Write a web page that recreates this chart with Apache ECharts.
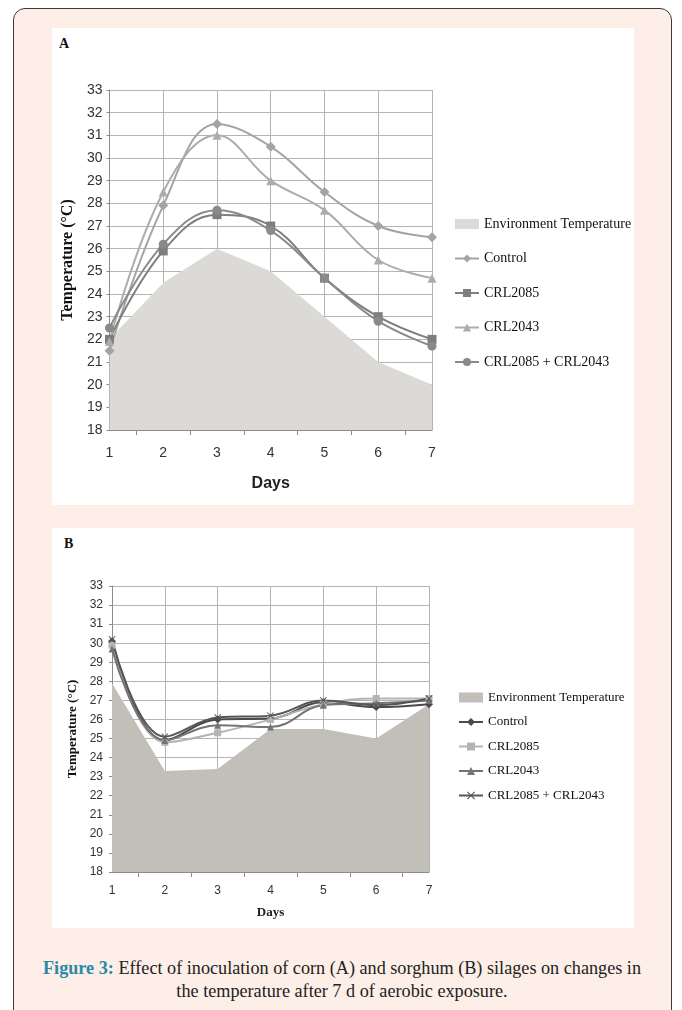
<!DOCTYPE html>
<html>
<head>
<meta charset="utf-8">
<script src="https://cdn.jsdelivr.net/npm/echarts@6/dist/echarts.min.js"></script>
<style>
  body { margin: 0; background: #fff; width: 682px; height: 1010px; position: relative; overflow: hidden; }
  #frame { position: absolute; left: 13px; top: 8px; width: 657px; height: 1020px; background: #fdeee8;
           border: 1.5px solid #3a3a3a; border-radius: 12px; }
  .panel { position: absolute; background: #fff; }
  #panelA { left: 52px; top: 28px; width: 582px; height: 477px; }
  #panelB { left: 52px; top: 528px; width: 582px; height: 400px; }
  .tag { position: absolute; font: bold 14px "Liberation Serif", serif; color: #111; }
  #chartA { position: absolute; left: 52px; top: 28px; width: 582px; height: 477px; }
  #chartB { position: absolute; left: 52px; top: 528px; width: 582px; height: 400px; }
  #caption { position: absolute; left: 10px; width: 664px; top: 957px; text-align: center;
             font: 18.2px/23px "Liberation Serif", serif; color: #222; }
  #caption b { color: #2a8aa6; }
</style>
</head>
<body>
<div id="frame"></div>
<div class="panel" id="panelA"></div>
<div class="panel" id="panelB"></div>
<div class="tag" style="left:59px;top:36px">A</div>
<div class="tag" style="left:64px;top:536px">B</div>
<div id="chartA"></div>
<div id="chartB"></div>
<div id="caption"><b>Figure 3:</b> Effect of inoculation of corn (A) and sorghum (B) silages on changes in<br>the temperature after 7 d of aerobic exposure.</div>

<script>
// days of aerobic exposure
const days = [1, 2, 3, 4, 5, 6, 7];
const seriesNames = ['Environment Temperature', 'Control', 'CRL2085', 'CRL2043', 'CRL2085 + CRL2043'];

// panel A - corn
const envA = [22.0, 24.5, 26.0, 25.0, 23.0, 21.0, 20.0];
const controlA = [21.5, 27.9, 31.5, 30.5, 28.5, 27.0, 26.5];
const crl2085A = [22.0, 25.9, 27.5, 27.0, 24.7, 23.0, 22.0];
const crl2043A = [21.9, 28.5, 31.0, 29.0, 27.7, 25.5, 24.7];
const comboA = [22.5, 26.2, 27.7, 26.8, 24.7, 22.8, 21.7];

// panel B - sorghum
const envB = [27.9, 23.3, 23.4, 25.5, 25.5, 25.0, 26.8];
const controlB = [30.1, 24.9, 26.0, 26.05, 26.9, 26.65, 26.8];
const crl2085B = [29.9, 24.8, 25.3, 26.0, 26.8, 27.1, 27.1];
const crl2043B = [29.7, 24.9, 25.7, 25.6, 26.75, 26.85, 27.0];
const comboB = [30.2, 25.1, 26.1, 26.2, 27.0, 26.75, 27.1];

const yTicks = [18, 33]; // axis range

const pairs = vals => days.map((d, i) => [d, vals[i]]);
const crossPath = 'path://M0,1L1,0L5,4L9,0L10,1L6,5L10,9L9,10L5,6L1,10L0,9L4,5Z';

function buildOption(cfg) {
  const lineSeries = (name, vals, color, symbol, size) => ({
    name: name, type: 'line', data: pairs(vals), smooth: 0.4,
    symbol: symbol, symbolSize: size, showSymbol: true,
    lineStyle: { color: color, width: cfg.lineWidth },
    itemStyle: { color: color }
  });
  return {
    animation: false,
    grid: cfg.grid,
    legend: {
      orient: 'vertical', left: cfg.legendLeft, top: cfg.legendTop,
      itemGap: cfg.legendGap, itemWidth: 24, itemHeight: 10,
      textStyle: { fontFamily: 'Liberation Serif', fontSize: cfg.legendFont, color: '#111' },
      data: [
        { name: seriesNames[0], icon: 'rect', itemStyle: { color: cfg.envColor } },
        seriesNames[1], seriesNames[2], seriesNames[3], seriesNames[4]
      ]
    },
    xAxis: {
      type: 'value', min: 1, max: 7, interval: 1,
      name: 'Days', nameLocation: 'middle', nameGap: cfg.daysGap,
      nameTextStyle: cfg.daysStyle,
      axisLine: { show: true, lineStyle: { color: '#8c8c8c', width: 1 } },
      axisTick: { show: false },
      minorTick: { show: true, splitNumber: 2, length: 5, lineStyle: { color: '#8c8c8c' } },
      axisLabel: { margin: cfg.xLabelMargin, color: '#333', fontFamily: 'Liberation Sans Narrow, Liberation Sans',
                   fontSize: cfg.xLabelSize },
      splitLine: { show: true, lineStyle: { color: '#b4b4b4', width: 1 } }
    },
    yAxis: {
      type: 'value', min: yTicks[0], max: yTicks[1], interval: 1,
      name: 'Temperature (°C)', nameLocation: 'middle', nameGap: cfg.yNameGap,
      nameTextStyle: { fontFamily: 'Liberation Serif', fontWeight: 'bold', fontSize: cfg.yNameSize, color: '#111' },
      axisLine: { show: true, lineStyle: { color: '#8c8c8c', width: 1 } },
      axisTick: { show: true, length: 3, lineStyle: { color: '#8c8c8c' } },
      axisLabel: { margin: cfg.yLabelMargin, color: '#333', fontFamily: 'Liberation Sans Narrow, Liberation Sans',
                   fontSize: cfg.yLabelSize },
      splitLine: { show: true, lineStyle: { color: '#b4b4b4', width: 1 } }
    },
    series: [
      {
        name: seriesNames[0], type: 'line', data: pairs(cfg.env), symbol: 'none',
        lineStyle: { width: 0, color: cfg.envColor }, itemStyle: { color: cfg.envColor },
        areaStyle: { color: cfg.envColor, opacity: 1, origin: 'start' }, z: 1
      },
      lineSeries(seriesNames[1], cfg.control, cfg.colors[0], 'diamond', cfg.symSize + 1),
      lineSeries(seriesNames[2], cfg.c2085, cfg.colors[1], 'rect', cfg.symSize),
      lineSeries(seriesNames[3], cfg.c2043, cfg.colors[2], 'triangle', cfg.symSize),
      lineSeries(seriesNames[4], cfg.combo, cfg.colors[3], cfg.comboSymbol, cfg.symSize)
    ]
  };
}

const chartA = echarts.init(document.getElementById('chartA'));
chartA.setOption(buildOption({
  grid: { left: 55, top: 62, width: 325, height: 340 },
  legendLeft: 397, legendTop: 184, legendGap: 20.5, legendFont: 14,
  envColor: '#dcdad6', env: envA, control: controlA, c2085: crl2085A, c2043: crl2043A, combo: comboA,
  colors: ['#a4a4a4', '#7e7e7e', '#acacac', '#8a8a8a'], comboSymbol: 'circle',
  lineWidth: 2, symSize: 9,
  daysGap: 46, daysStyle: { fontFamily: 'Liberation Sans Narrow, Liberation Sans', fontWeight: 'bold', fontSize: 16, color: '#222' },
  xLabelMargin: 16, xLabelSize: 14,
  yNameGap: 30, yNameSize: 16, yLabelMargin: 7, yLabelSize: 14
}));

const chartB = echarts.init(document.getElementById('chartB'));
chartB.setOption(buildOption({
  grid: { left: 60, top: 58, width: 317, height: 286 },
  legendLeft: 401, legendTop: 158, legendGap: 11.5, legendFont: 13,
  envColor: '#c2bfb8', env: envB, control: controlB, c2085: crl2085B, c2043: crl2043B, combo: comboB,
  colors: ['#4a4a4a', '#b4b4b4', '#747474', '#565656'], comboSymbol: crossPath,
  lineWidth: 2, symSize: 7,
  daysGap: 34, daysStyle: { fontFamily: 'Liberation Serif', fontWeight: 'bold', fontSize: 13, color: '#222' },
  xLabelMargin: 13, xLabelSize: 12,
  yNameGap: 33, yNameSize: 13, yLabelMargin: 9, yLabelSize: 12
}));
</script>
</body>
</html>
